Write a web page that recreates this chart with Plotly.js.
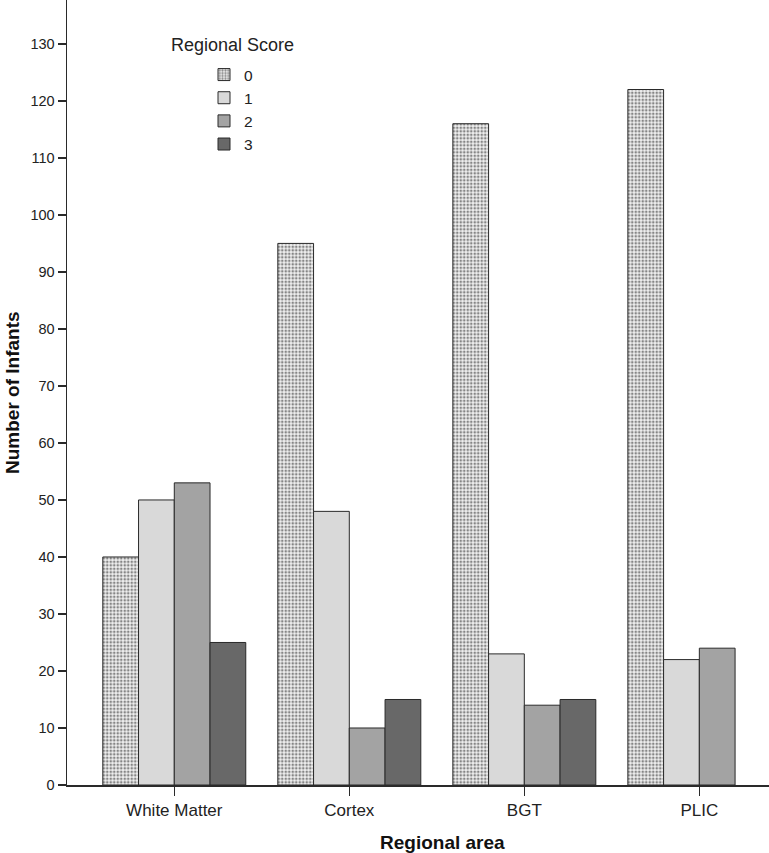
<!DOCTYPE html>
<html>
<head>
<meta charset="utf-8">
<script src="https://cdn.plot.ly/plotly-3.0.1.min.js"></script>
<style>html,body{margin:0;padding:0;background:#fff;}#chart{width:769px;height:853px;}</style>
</head>
<body>
<div id="chart"></div>
<script>
const categories = ["White Matter", "Cortex", "BGT", "PLIC"];
const scoreNames = ["0", "1", "2", "3"];
const score0 = [40, 95, 116, 122];
const score1 = [50, 48, 23, 22];
const score2 = [53, 10, 14, 24];
const score3 = [25, 15, 15, null];
const yTicks = [0,10,20,30,40,50,60,70,80,90,100,110,120,130];

const series = [score0, score1, score2, score3];
const fills = ["#ececec", "#d9d9d9", "#a3a3a3", "#686868"];
const lineCol = "#2a2a2a";

const traces = series.map((vals, i) => {
  const t = {
    type: "bar",
    name: scoreNames[i],
    x: categories,
    y: vals,
    marker: {color: fills[i], line: {color: lineCol, width: 1}}
  };
  if (i === 0) {
    t.marker.pattern = {shape: ".", size: 3.5, solidity: 0.45, fgcolor: "#858585", bgcolor: "#f0f0f0", fillmode: "replace"};
  }
  return t;
});

const W = 702;
const layout = {
  width: 769, height: 853,
  margin: {l: 67, r: 0, t: 0, b: 68, pad: 0},
  paper_bgcolor: "#fff", plot_bgcolor: "#fff",
  font: {family: "Liberation Sans, Arial, sans-serif", color: "#222"},
  barmode: "group", bargap: 0.183, bargroupgap: 0,
  showlegend: true,
  legend: {
    x: (204 - 67) / W, y: 1 - 58 / 785, xanchor: "left", yanchor: "top",
    bgcolor: "rgba(0,0,0,0)", font: {size: 15.5, color: "#222"},
    tracegroupgap: 0, itemclick: false
  },
  xaxis: {
    type: "category", range: [-0.613, 3.398],
    showline: true, linecolor: "#2a2a2a", linewidth: 1.5,
    ticks: "outside", ticklen: 9, tickcolor: "#2a2a2a", tickwidth: 1.5,
    tickfont: {size: 17, color: "#222"}, showgrid: false, zeroline: false
  },
  yaxis: {
    range: [0, 137.7], tickvals: yTicks, ticktext: yTicks.map(String),
    showline: true, linecolor: "#2a2a2a", linewidth: 1.5,
    ticks: "outside", ticklen: 8, tickcolor: "#2a2a2a", tickwidth: 1.5,
    tickfont: {size: 14.5, color: "#222"}, showgrid: false, zeroline: false
  },
  annotations: [
    {text: "Regional Score", xref: "paper", yref: "paper", x: (232 - 67) / W, y: 1 - 45 / 785,
     xanchor: "center", yanchor: "middle", showarrow: false, font: {size: 18, color: "#222"}},
    {text: "<b>Regional area</b>", xref: "paper", yref: "paper", x: (442 - 67) / W, y: -(842 - 785) / 785,
     xanchor: "center", yanchor: "middle", showarrow: false, font: {size: 19, color: "#111"}},
    {text: "<b>Number of Infants</b>", xref: "paper", yref: "paper", x: (12 - 67) / W, y: 1 - 393 / 785,
     xanchor: "center", yanchor: "middle", textangle: -90, showarrow: false, font: {size: 19, color: "#111"}}
  ]
};

Plotly.newPlot("chart", traces, layout, {displayModeBar: false, staticPlot: true});
</script>
</body>
</html>
